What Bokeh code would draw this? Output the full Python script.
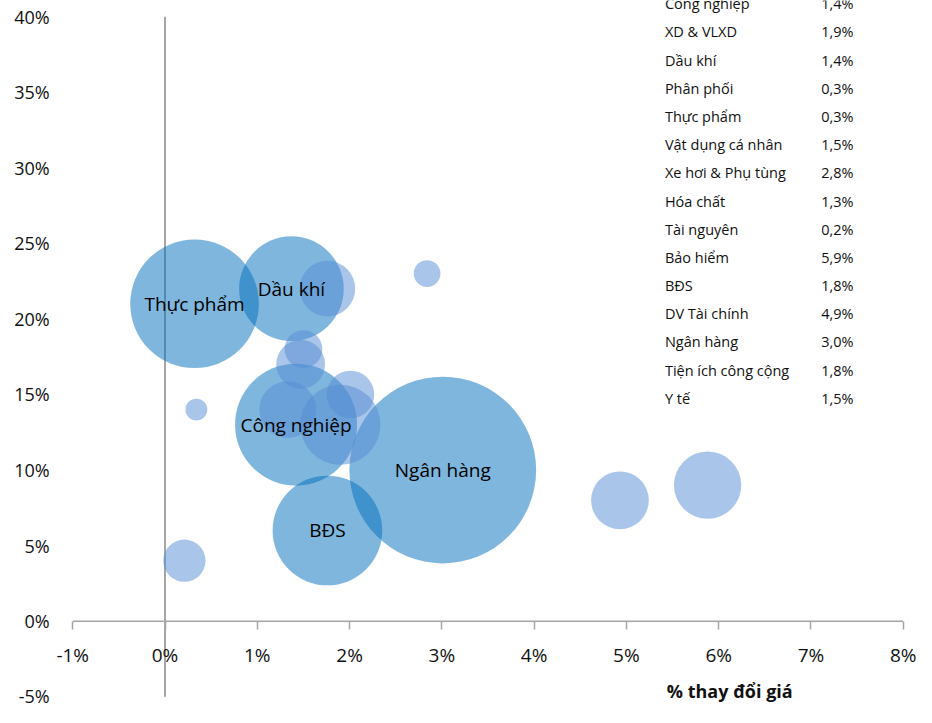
from bokeh.plotting import figure
from bokeh.models import ColumnDataSource, FixedTicker, Range1d
from bokeh.core.properties import value
from bokeh.embed import file_html
from bokeh.resources import INLINE
import math

# ---- data ----
sectors = ["Công nghiệp", "XD & VLXD", "Dầu khí", "Phân phối", "Thực phẩm",
           "Vật dụng cá nhân", "Xe hơi & Phụ tùng", "Hóa chất", "Tài nguyên",
           "Bảo hiểm", "BĐS", "DV Tài chính", "Ngân hàng", "Tiện ích công cộng",
           "Y tế", "Công nghệ thông tin"]
price_change = [1.42, 1.90, 1.37, 0.34, 0.32, 1.50, 2.84, 1.33, 0.21,
                5.88, 1.76, 4.93, 3.01, 1.76, 1.47, 2.01]          # % thay đổi giá
growth = [13, 13, 22, 14, 21, 18, 23, 14, 4, 9, 6, 8, 10, 22, 17, 15]  # y, %
weight = [12.5, 5.4, 9.2, 0.4, 13.9, 1.2, 0.6, 2.7, 1.5, 3.8, 10.1, 2.8,
          29.3, 2.6, 2.0, 1.9]                                  # bubble size
featured = ["Thực phẩm", "Dầu khí", "Công nghiệp", "Ngân hàng", "BĐS"]
table_rows = sectors[:15]          # rows visible in the side table
x_ticks = [-1, 0, 1, 2, 3, 4, 5, 6, 7, 8]
y_ticks = [-5, 0, 5, 10, 15, 20, 25, 30, 35, 40]
x_title = "% thay đổi giá"

# ---- layout (pixel geometry) ----
W, H = 916, 707
SX, SY = W / 932, H / 723
XL_PX, XR_PX = 73.5 * SX, 918.5 * SX        # -1% and 8%
YT_PX, YB_PX = 16.5 * SY, 712 * SY          # 40% and -5%
PXX = (XR_PX - XL_PX) / (x_ticks[-1] - x_ticks[0])
PXY = (YB_PX - YT_PX) / (y_ticks[-1] - y_ticks[0])
X_START = x_ticks[0] - XL_PX / PXX
X_END = X_START + W / PXX
Y_END = y_ticks[-1] + YT_PX / PXY
Y_START = Y_END - H / PXY

def dx(px):
    return X_START + px * SX / PXX

def dy(py):
    return Y_END - py * SY / PXY

FONT = value("Open Sans")
GRAY = "#A6A6A6"

p = figure(width=W, height=H, x_range=Range1d(X_START, X_END), y_range=Range1d(Y_START, Y_END),
           output_backend="svg", toolbar_location=None,
           min_border_left=0, min_border_right=0, min_border_top=0, min_border_bottom=0)
p.outline_line_color = None
p.grid.visible = False
p.background_fill_color = "white"

# vertical axis line at x = 0 and horizontal axis line at y = 0
p.segment(x0=[0], y0=[y_ticks[0]], x1=[0], y1=[y_ticks[-1]], line_color=GRAY, line_width=2)
p.segment(x0=[x_ticks[0]], y0=[0], x1=[x_ticks[-1]], y1=[0], line_color=GRAY, line_width=1.5)

# x axis (ticks + labels) crossing at y = 0
xa = p.xaxis[0]
xa.fixed_location = 0
xa.ticker = FixedTicker(ticks=x_ticks)
xa.major_label_overrides = {t: f"{t}%" for t in x_ticks}
xa.axis_line_color = None
xa.major_tick_line_color = GRAY
xa.major_tick_line_width = 1.5
xa.major_tick_out = 8
xa.major_tick_in = 0
xa.minor_tick_out = 0
xa.minor_tick_in = 0
xa.major_label_standoff = 13
xa.major_label_text_font = "Open Sans"
xa.major_label_text_font_size = "19px"
xa.major_label_text_color = "#111111"

# y axis labels on the left edge of the -1% line
ya = p.yaxis[0]
ya.fixed_location = x_ticks[0]
ya.ticker = FixedTicker(ticks=y_ticks)
ya.major_label_overrides = {t: f"{t}%" for t in y_ticks}
ya.axis_line_color = None
ya.major_tick_line_color = None
ya.minor_tick_line_color = None
ya.major_tick_out = 0
ya.major_tick_in = 0
ya.major_label_standoff = 23
ya.major_label_text_font = "Open Sans"
ya.major_label_text_font_size = "18px"
ya.major_label_text_color = "#111111"

# bubbles
wmax = max(weight)
RMAX = 95.0 * SX
diam = [2 * RMAX * math.sqrt(w / wmax) for w in weight]
is_feat = [s in featured for s in sectors]

def sub(mask):
    idx = [i for i, m in enumerate(mask) if m]
    return ColumnDataSource(dict(
        x=[price_change[i] for i in idx], y=[growth[i] for i in idx],
        size=[diam[i] for i in idx], name=[sectors[i] for i in idx]))

dark = sub(is_feat)
light = sub([not m for m in is_feat])
p.scatter("x", "y", size="size", source=dark, fill_color="#006DBB", fill_alpha=0.5, line_color=None)
p.scatter("x", "y", size="size", source=light, fill_color="#538BD3", fill_alpha=0.5, line_color=None)

p.text("x", "y", text="name", source=dark, text_align="center", text_baseline="middle",
       text_font=FONT, text_font_size="19px", text_color="#000000")

# side table
row_y = [dy(3.3 + 28.82 * i) for i in range(len(table_rows))]
tbl = ColumnDataSource(dict(
    xn=[dx(676)] * len(table_rows),
    xv=[dx(835)] * len(table_rows),
    y=row_y,
    name=table_rows,
    val=[f"{price_change[sectors.index(s)]:.1f}%".replace(".", ",") for s in table_rows]))
p.text("xn", "y", text="name", source=tbl, text_align="left", text_baseline="middle",
       text_font=FONT, text_font_size="14.5px", text_color="#111111")
p.text("xv", "y", text="val", source=tbl, text_align="left", text_baseline="middle",
       text_font=FONT, text_font_size="14.5px", text_color="#111111")

# axis title
p.text(x=[dx(742)], y=[dy(706)], text=[x_title], text_align="center", text_baseline="middle",
       text_font=FONT, text_font_size="18px", text_font_style="bold", text_color="#111111")

open("out.html", "w").write(file_html(p, INLINE))
